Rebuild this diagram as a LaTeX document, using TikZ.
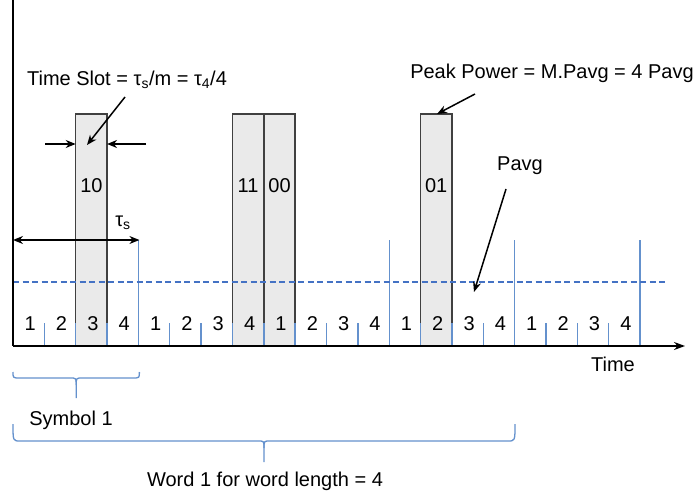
\documentclass[tikz,border=0pt]{standalone}
\usepackage{fontspec}
\setmainfont{Liberation Sans}
\usetikzlibrary{arrows.meta}
\definecolor{lineblue}{RGB}{100,145,205}
\definecolor{dashblue}{RGB}{68,114,196}
\definecolor{pulsegray}{RGB}{234,234,234}
\newcommand\mybrace[5]{% x0, x1, top, h, tip
  \pgfmathsetmacro\xm{(#1+#2)/2}
  \draw[brace] (#1,#3) .. controls (#1,#4) .. (#1+7,#4) -- (\xm-6,#4) .. controls (\xm,#4) .. (\xm,#4+7) -- (\xm,#5);
  \draw[brace] (#2,#3) .. controls (#2,#4) .. (#2-7,#4) -- (\xm+6,#4) .. controls (\xm,#4) .. (\xm,#4+7);
}
\begin{document}
\begin{tikzpicture}[x=1pt,y=-1pt,
 lbl/.style={font=\fontsize{20}{24}\selectfont, inner sep=0pt},
 pulse/.style={draw=black!75, line width=1.4pt, fill=pulsegray},
 slottick/.style={draw=lineblue, line width=1.4pt},
 arr/.style={-{Stealth[length=10pt,width=8pt]}, line width=1.5pt},
 brace/.style={draw=lineblue, line width=1.3pt}]
\useasboundingbox (0,0) rectangle (700,494);
\def\w{31.35}
% pulses
\draw[pulse] (75.7,114) rectangle (107.05,346);
\draw[pulse] (232.45,114) rectangle (263.8,346);
\draw[pulse] (263.8,114) rectangle (295.15,346);
\draw[pulse] (420.55,114) rectangle (451.9,346);
% ticks
\foreach \k in {1,...,20}{
  \pgfmathsetmacro\xx{13+\k*\w}
  \pgfmathtruncatemacro\r{mod(\k,4)}
  \ifnum\r=0
    \ifnum\k=8
      \draw[slottick] (\xx,323) -- (\xx,346);
    \else
      \draw[slottick] (\xx,240) -- (\xx,346);
    \fi
  \else
    \draw[slottick] (\xx,323) -- (\xx,346);
  \fi
}
% slot numbers
\foreach \k in {0,...,19}{
  \pgfmathsetmacro\xx{13+(\k+0.5)*\w+1.5}
  \pgfmathtruncatemacro\n{mod(\k,4)+1}
  \node[lbl] (n\k) at (\xx,324) {\n};
}
% dashed average line
\coordinate (dl) at (13,282);
\coordinate (dr) at (668,282);
\draw[dashblue, line width=1.6pt, dash pattern=on 6pt off 3.5pt] (dl) -- (dr);
% axes
\coordinate (o) at (13,346);
\coordinate (ytop) at (13,0);
\coordinate (xend) at (685,346);
\draw[line width=1.6pt] (ytop) -- (o);
\draw[line width=1.6pt, -{Stealth[length=11pt,width=8pt]}] (o) -- (xend);
\node[lbl] (time) at (613,364) {Time};
% pulse labels
\node[lbl] (p10) at (91.4,186) {10};
\node[lbl] (p11) at (248.1,186) {11};
\node[lbl] (p00) at (279.5,186) {00};
\node[lbl] (p01) at (436.2,186) {01};
% time slot label and arrows
\node[lbl] (tslot) at (127,80) {Time Slot = τ\textsubscript{s}/m = τ\textsubscript{4}/4};
\coordinate (tsa) at (125,97);
\coordinate (tsb) at (87,145);
\draw[arr] (tsa) -- (tsb);
\coordinate (la) at (45,144);
\coordinate (lb) at (75.7,144);
\coordinate (ra) at (146,144);
\coordinate (rb) at (107.05,144);
\draw[arr] (la) -- (lb);
\draw[arr] (ra) -- (rb);
% tau_s
\node[lbl] (taus) at (123,223) {τ\textsubscript{s}};
\coordinate (ta) at (13,240);
\coordinate (tb) at (139.4,240);
\draw[{Stealth[length=10pt,width=8pt]}-{Stealth[length=10pt,width=8pt]}, line width=1.5pt] (ta) -- (tb);
% peak power
\node[lbl] (peak) at (552,73) {Peak Power = M.Pavg = 4 Pavg};
\coordinate (pka) at (475,94);
\coordinate (pkb) at (437,114);
\draw[arr] (pka) -- (pkb);
% Pavg
\node[lbl] (pavg) at (520,166) {Pavg};
\coordinate (pva) at (506,189);
\coordinate (pvb) at (474,292);
\draw[arr] (pva) -- (pvb);
% braces
\mybrace{13}{139.4}{372}{378}{398}
\node[lbl] (sym) at (71,420) {Symbol 1};
\mybrace{13}{515}{424}{441}{462}
\node[lbl] (word) at (265,481) {Word 1 for word length = 4};
\end{tikzpicture}
\end{document}
